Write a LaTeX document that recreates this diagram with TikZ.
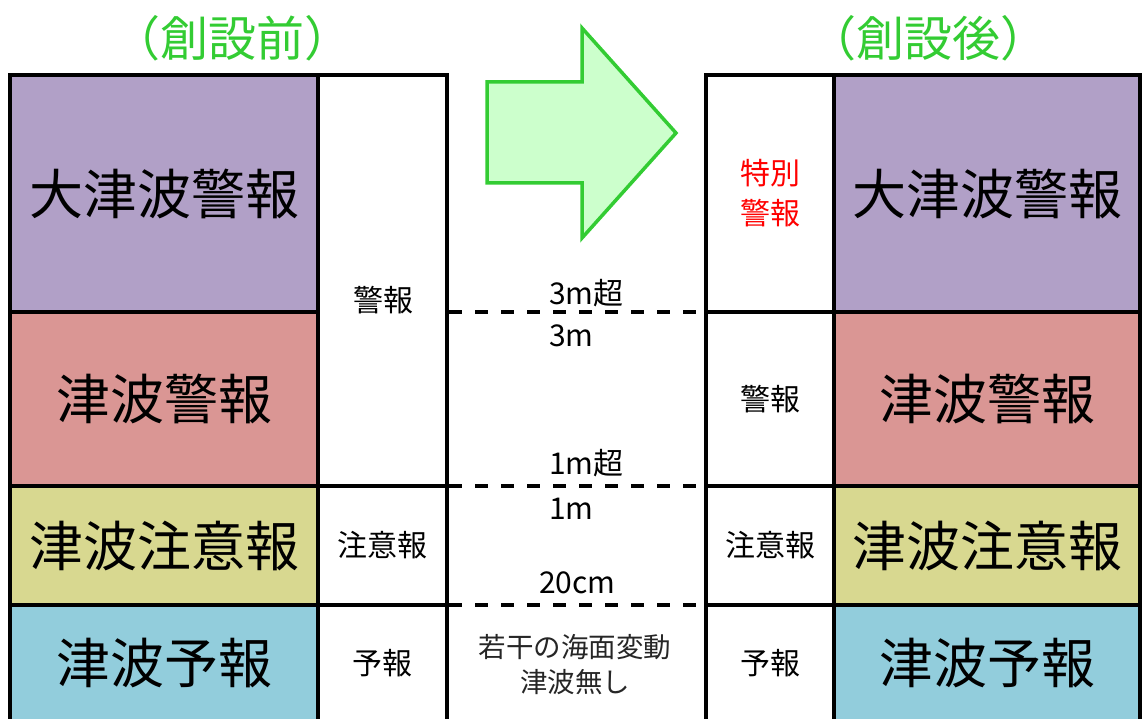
\documentclass[tikz,border=0pt]{standalone}
\usepackage{fontspec}
\setmainfont{Noto Sans CJK JP}
\definecolor{cpurple}{HTML}{B1A0C7}
\definecolor{cred}{HTML}{DA9694}
\definecolor{cyellow}{HTML}{D8D890}
\definecolor{cblue}{HTML}{92CDDC}
\definecolor{cgreen}{HTML}{33CC33}
\definecolor{clgreen}{HTML}{CCFFCC}
\definecolor{cwarn}{HTML}{FF0000}
\tikzset{
  cell/.style={draw=black, line width=4pt, inner sep=0pt, outer sep=0pt},
  bigtxt/.style={font=\fontsize{54}{60}\selectfont},
  smalltxt/.style={font=\fontsize{30}{40}\selectfont},
  midtxt/.style={font=\fontsize{30}{34}\selectfont},
  titletxt/.style={font=\fontsize{48}{52}\selectfont, text=cgreen},
  dashline/.style={line width=4pt, dash pattern=on 13pt off 13pt},
}
\begin{document}
\begin{tikzpicture}[x=1pt,y=-1pt]
\useasboundingbox (0,0) rectangle (1142,719);
% titles
\node[titletxt] (t1) at (232,38) {（創設前）};
\node[titletxt] (t2) at (928,38) {（創設後）};
% left table
\node[cell, fill=cpurple, minimum width=308pt, minimum height=237pt, bigtxt] (L1) at (164,193.5) {大津波警報};
\node[cell, fill=cred, minimum width=308pt, minimum height=174pt, bigtxt] (L2) at (164,399) {津波警報};
\node[cell, fill=cyellow, minimum width=308pt, minimum height=119pt, bigtxt] (L3) at (164,545.5) {津波注意報};
\node[cell, fill=cblue, minimum width=308pt, minimum height=116pt, bigtxt] (L4) at (164,663) {津波予報};
\node[cell, fill=white, minimum width=129pt, minimum height=411pt] (S1) at (382.5,280.5) {};
\node[smalltxt] (S1t) at (383,300) {警報};
\node[cell, fill=white, minimum width=129pt, minimum height=119pt, smalltxt] (S2) at (382.5,545.5) {注意報};
\node[cell, fill=white, minimum width=129pt, minimum height=116pt, smalltxt] (S3) at (382.5,663) {予報};
% right table
\node[cell, fill=white, minimum width=128pt, minimum height=237pt, smalltxt, text=cwarn, align=center] (RS1) at (770,193.5) {特別\\警報};
\node[cell, fill=white, minimum width=128pt, minimum height=174pt, smalltxt] (RS2) at (770,399) {警報};
\node[cell, fill=white, minimum width=128pt, minimum height=119pt, smalltxt] (RS3) at (770,545.5) {注意報};
\node[cell, fill=white, minimum width=128pt, minimum height=116pt, smalltxt] (RS4) at (770,663) {予報};
\node[cell, fill=cpurple, minimum width=306pt, minimum height=237pt, bigtxt] (R1) at (987,193.5) {大津波警報};
\node[cell, fill=cred, minimum width=306pt, minimum height=174pt, bigtxt] (R2) at (987,399) {津波警報};
\node[cell, fill=cyellow, minimum width=306pt, minimum height=119pt, bigtxt] (R3) at (987,545.5) {津波注意報};
\node[cell, fill=cblue, minimum width=306pt, minimum height=116pt, bigtxt] (R4) at (987,663) {津波予報};
% dashed level lines
\coordinate (d1a) at (449,312); \coordinate (d1b) at (704,312);
\coordinate (d2a) at (449,486); \coordinate (d2b) at (704,486);
\coordinate (d3a) at (449,605); \coordinate (d3b) at (704,605);
\draw[dashline] (d1a) -- (d1b);
\draw[dashline] (d2a) -- (d2b);
\draw[dashline] (d3a) -- (d3b);
% level labels
\node[midtxt, anchor=west, inner sep=0pt] (m1) at (549,293) {3m超};
\node[midtxt, anchor=west, inner sep=0pt] (m2) at (549,336) {3m};
\node[midtxt, anchor=west, inner sep=0pt] (m3) at (549,463) {1m超};
\node[midtxt, anchor=west, inner sep=0pt] (m4) at (549,509) {1m};
\node[midtxt, anchor=west, inner sep=0pt] (m5) at (539,583) {20cm};
\node[align=center, font=\fontsize{27.5}{35}\selectfont, text=black!85] (m6) at (575,665) {若干の海面変動\\津波無し};
% arrow
\draw[draw=cgreen, fill=clgreen, line width=3.5pt, line join=miter]
  (487,82) -- (582,82) -- (582,28) -- (676,133) -- (582,238) -- (582,183) -- (487,183) -- cycle;
\end{tikzpicture}
\end{document}
